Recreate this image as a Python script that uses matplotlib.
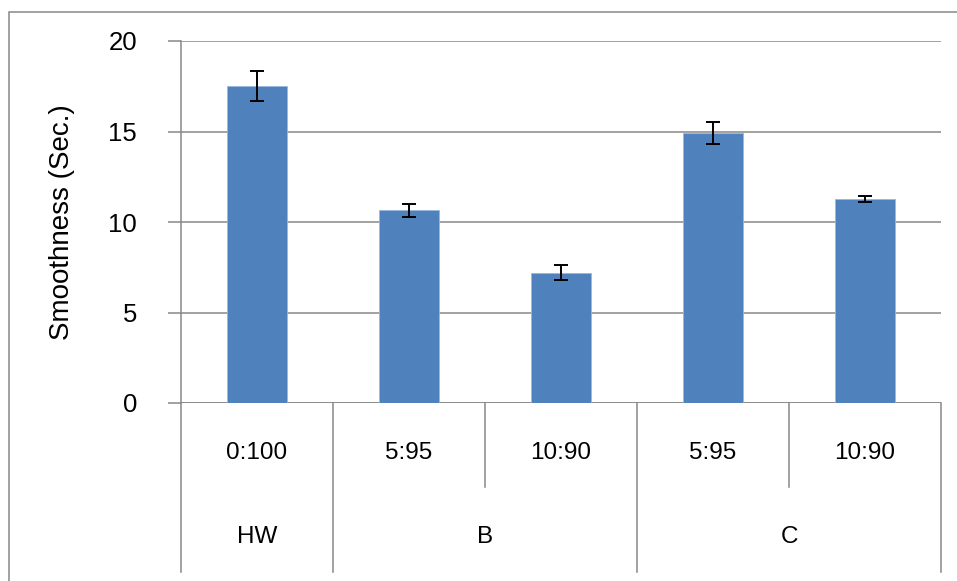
import matplotlib
matplotlib.use("Agg")
import matplotlib.pyplot as plt
from matplotlib.patches import Rectangle

groups = ["HW", "B", "C"]
sub_labels = ["0:100", "5:95", "10:90", "5:95", "10:90"]
group_sizes = [1, 2, 2]
values = [17.5, 10.65, 7.2, 14.9, 11.28]
errors = [0.83, 0.36, 0.4, 0.6, 0.18]
yticks = [0, 5, 10, 15, 20]

plt.rcParams['font.family'] = ['Liberation Sans', 'DejaVu Sans']
W, H = 957, 581
fig = plt.figure(figsize=(W / 100, H / 100), dpi=100)
ax = fig.add_axes([181 / W, 178 / H, 760 / W, 362 / H])

gray = '#878787'
x = list(range(len(values)))
ax.bar(x, values, width=0.4, color='#4F81BD', edgecolor='#9ab8dc', linewidth=0.6, zorder=3)
ax.errorbar(x, values, yerr=errors, fmt='none', ecolor='black', elinewidth=1.4,
            capsize=5, capthick=1.4, zorder=4)

ax.set_xlim(-0.5, len(values) - 0.5)
ax.set_ylim(0, 20)
ax.set_yticks(yticks)
ax.yaxis.grid(True, color=gray, linewidth=1.1, zorder=0)
ax.set_axisbelow(True)
for s in ['top', 'right', 'bottom']:
    ax.spines[s].set_visible(False)
ax.spines['left'].set_color(gray)
ax.spines['left'].set_linewidth(1.1)
ax.axhline(0, color=gray, linewidth=1.1, zorder=2)
ax.tick_params(axis='y', length=9.5, width=1.1, color=gray, pad=22, labelsize=18.5)
ax.tick_params(axis='x', length=0, labelbottom=False)
ax.set_ylabel("Smoothness (Sec.)", fontsize=20, labelpad=24)

trans = ax.get_xaxis_transform()
short_y = -84 / 362
long_y = -169 / 362
sub_y = -50 / 362
grp_y = -134 / 362

# sub labels
for xi, lab in zip(x, sub_labels):
    ax.text(xi, sub_y, lab, transform=trans, ha='center', va='center', fontsize=17.5)

# boundaries
start = 0
bounds_long = [-0.5]
for g, n in zip(groups, group_sizes):
    center = start + (n - 1) / 2
    ax.text(center, grp_y, g, transform=trans, ha='center', va='center', fontsize=17.5)
    for k in range(1, n):
        bx = start + k - 0.5
        ax.plot([bx, bx], [0, short_y], transform=trans, color=gray, lw=1.1, clip_on=False)
    start += n
    bounds_long.append(start - 0.5)
for bx in bounds_long:
    ax.plot([bx, bx], [0, long_y], transform=trans, color=gray, lw=1.1, clip_on=False)

# outer chart border
fig.patches.append(Rectangle((8.5 / W, -0.1), 1.2, (H - 11.5) / H + 0.1,
                             transform=fig.transFigure, fill=False,
                             edgecolor=gray, linewidth=1.1))

fig.savefig("out.png", dpi=100)
